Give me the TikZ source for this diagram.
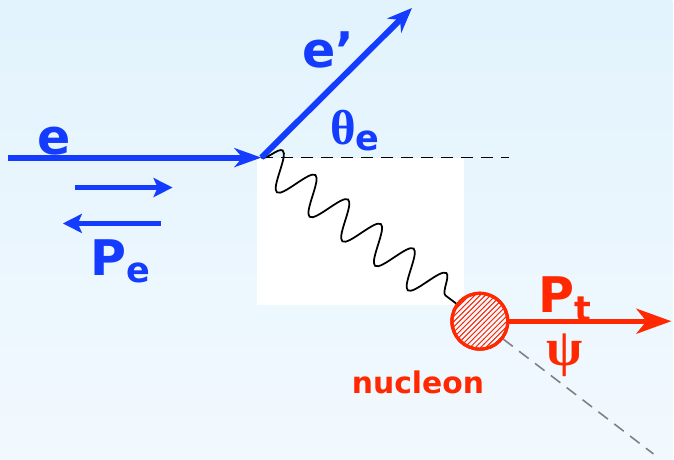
\documentclass[tikz,border=0pt]{standalone}
\usepackage{fontspec}
\setmainfont{DejaVu Sans}
\newfontfamily\greekfont{Liberation Serif}
\usepackage{xcolor}
\usetikzlibrary{arrows.meta, positioning, decorations.pathmorphing, patterns}
\definecolor{eblue}{RGB}{20,60,255}
\definecolor{nred}{RGB}{255,40,0}
\definecolor{bgtop}{RGB}{226,243,253}
\definecolor{bgbot}{RGB}{242,249,254}

\begin{document}
\begin{tikzpicture}[
    lbl/.style={font=\fontsize{28}{30}\selectfont\bfseries, text=eblue, inner sep=0pt},
    beam/.style={-{Stealth[length=5.4mm, width=3.8mm, inset=1.6mm]}, line width=3.4pt, color=eblue},
    spin/.style={-{Stealth[length=3.8mm, width=3.8mm, inset=0.8mm]}, line width=2.8pt, color=eblue},
    photon/.style={decorate, decoration={snake, amplitude=3.7mm, segment length=8.2mm, post length=1mm}, line width=1pt, black},
    nucleon/.style={circle, draw=nred, line width=1.8pt, fill=white, pattern=north east lines, pattern color=nred, minimum size=11.2mm, inner sep=0pt},
    track/.style={-{Stealth[length=7mm, width=5mm, inset=2mm]}, line width=3pt, color=nred}
]

% Background
\shade[top color=bgtop, bottom color=bgbot] (0,0) rectangle (13.48,9.22);
\fill[white] (5.16,6.06) rectangle (9.3,3.1);

% Nodes
\coordinate (vtx) at (5.24,6.06);
\coordinate (ein) at (0.16,6.06);
\coordinate (eout) at (8.26,9.06);
\coordinate (horiz) at (10.2,6.06);
\node[nucleon] (nuc) at (9.62,2.78) {};
\coordinate (ptend) at (13.46,2.78);
\coordinate (psiend) at (13.1,0.12);

\node[lbl] (elbl) at (1.08,6.4) {e};
\node[lbl] (eplbl) at (6.58,8.22) {e’};
\node[lbl] (thlbl) at (7.12,6.6) {{\greekfont θ}\textsubscript{\fontsize{20}{22}\selectfont\bfseries e}};
\node[lbl] (pelbl) at (2.42,3.98) {P\textsubscript{\fontsize{20}{22}\selectfont e}};
\node[lbl, text=nred] (ptlbl) at (11.34,3.22) {P\textsubscript{\fontsize{20}{22}\selectfont t}};
\node[lbl, text=nred, font=\fontsize{30}{32}\selectfont\bfseries] (psilbl) at (11.32,2.1) {\greekfont ψ};
\node[lbl, text=nred, font=\fontsize{17}{19}\selectfont\bfseries] (nuclbl) at (8.38,1.56) {nucleon};

\coordinate (sr1) at (1.5,5.46);
\coordinate (sr2) at (3.46,5.46);
\coordinate (sl1) at (3.22,4.74);
\coordinate (sl2) at (1.26,4.74);

% Lines
\draw[dashed, line width=1pt, dash pattern=on 2.4mm off 1.6mm] (vtx) -- (horiz);
\draw[dashed, line width=0.9pt, gray, dash pattern=on 2.4mm off 1.6mm] (nuc) -- (psiend);
\draw[photon] (vtx) -- (nuc);

% Arrows
\draw[beam] (ein) -- (vtx);
\draw[beam, -{Stealth[length=5mm, width=4mm, inset=1.6mm]}] (vtx) -- (eout);
\draw[spin] (sr1) -- (sr2);
\draw[spin] (sl1) -- (sl2);
\draw[track] (nuc) -- (ptend);
\node[nucleon] at (nuc) {};

\end{tikzpicture}
\end{document}
